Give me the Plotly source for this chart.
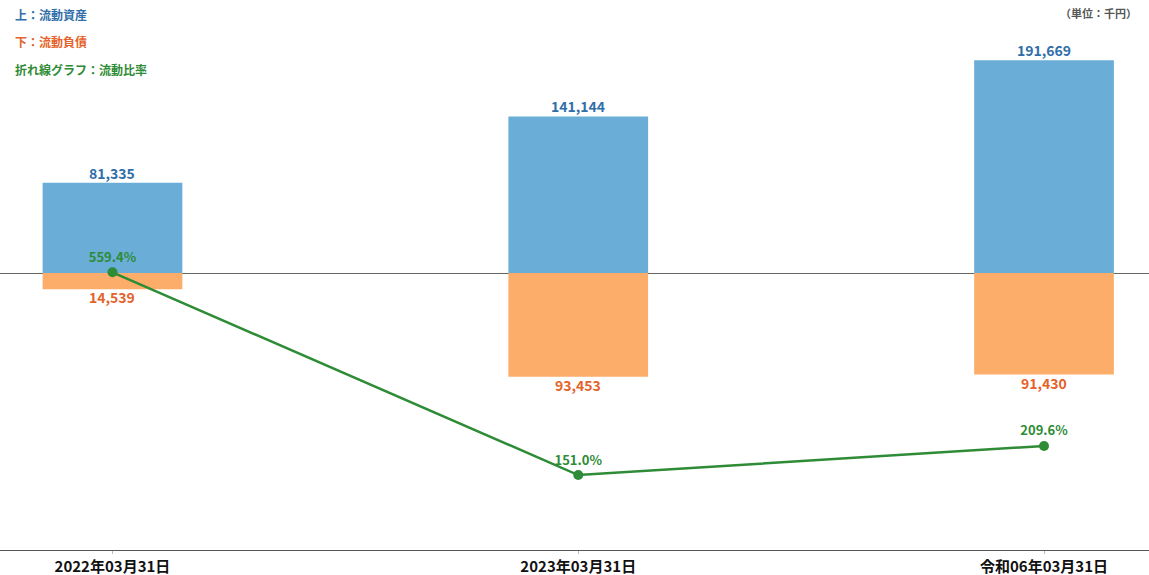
import plotly.graph_objects as go

# 決算期ごとの流動資産・流動負債（千円）と流動比率（%）
periods = ["2022年03月31日", "2023年03月31日", "令和06年03月31日"]
current_assets = [81335, 141144, 191669]
current_liabilities = [14539, 93453, 91430]
current_ratio = [559.4, 151.0, 209.6]

BLUE_BAR = "#6aaed7"
ORANGE_BAR = "#fdad6a"
BLUE_TXT = "#2f6ea8"
ORANGE_TXT = "#e5622a"
GREEN = "#2e8b36"
FONT = "Noto Sans CJK JP"

x_pos = list(range(len(periods)))

fig = go.Figure()

fig.add_trace(go.Bar(
    x=x_pos, y=current_assets,
    width=0.30,
    marker=dict(color=BLUE_BAR, line=dict(width=0)),
    hoverinfo="skip",
))

fig.add_trace(go.Bar(
    x=x_pos, y=[-v for v in current_liabilities],
    width=0.30,
    marker=dict(color=ORANGE_BAR, line=dict(width=0)),
    hoverinfo="skip",
))

fig.add_trace(go.Scatter(
    x=x_pos, y=current_ratio,
    yaxis="y2",
    mode="lines+markers+text",
    line=dict(color=GREEN, width=2.5),
    marker=dict(color=GREEN, size=10),
    text=[f"{v:.1f}%" for v in current_ratio],
    textposition="top center",
    textfont=dict(color=GREEN, size=13, family=FONT, weight="bold"),
    cliponaxis=False,
    hoverinfo="skip",
))

annotations = []
# 棒の値ラベル（資産は上、負債は下）
for xi, v in zip(x_pos, current_assets):
    annotations.append(dict(
        x=xi, y=v, xref="x", yref="y", text=f"{v:,}",
        xanchor="center", yanchor="bottom", yshift=-2, showarrow=False,
        font=dict(color=BLUE_TXT, size=14, family=FONT, weight="bold"),
    ))
for xi, v in zip(x_pos, current_liabilities):
    annotations.append(dict(
        x=xi, y=-v, xref="x", yref="y", text=f"{v:,}",
        xanchor="center", yanchor="top", yshift=4, showarrow=False,
        font=dict(color=ORANGE_TXT, size=14, family=FONT, weight="bold"),
    ))

legend_lines = [
    ("上：流動資産", BLUE_TXT),
    ("下：流動負債", ORANGE_TXT),
    ("折れ線グラフ：流動比率", GREEN),
]
for i, (txt, col) in enumerate(legend_lines):
    annotations.append(dict(
        text=txt, xref="paper", yref="paper",
        x=0.011, y=1 - (14 + 27.5 * i) / 550, xanchor="left", yanchor="middle",
        showarrow=False,
        font=dict(color=col, size=12, family=FONT, weight="bold"),
    ))
annotations.append(dict(
    text="（単位：千円）", xref="paper", yref="paper",
    x=1139 / 1149, y=1 - 13 / 550, xanchor="right", yanchor="middle",
    showarrow=False,
    font=dict(color="#555555", size=11, family=FONT, weight="bold"),
))

fig.update_layout(
    width=1149, height=575,
    margin=dict(l=0, r=0, t=0, b=25),
    paper_bgcolor="white", plot_bgcolor="white",
    barmode="relative",
    showlegend=False,
    annotations=annotations,
    xaxis=dict(
        range=[-0.2415, 2.2254],
        tickmode="array", tickvals=x_pos, ticktext=periods,
        tickfont=dict(color="#111111", size=15, family=FONT, weight="bold"),
        showline=True, linecolor="#555555", linewidth=1,
        ticks="outside", ticklen=3, tickcolor="#bbbbbb",
        showgrid=False, zeroline=False,
    ),
    yaxis=dict(
        range=[-249500, 246000],
        showticklabels=False, showgrid=False,
        zeroline=True, zerolinecolor="#666666", zerolinewidth=1,
        showline=False,
    ),
    yaxis2=dict(
        range=[0, 1108],
        overlaying="y", side="right",
        showticklabels=False, showgrid=False, zeroline=False, showline=False,
    ),
)

fig.write_html("out.html")
